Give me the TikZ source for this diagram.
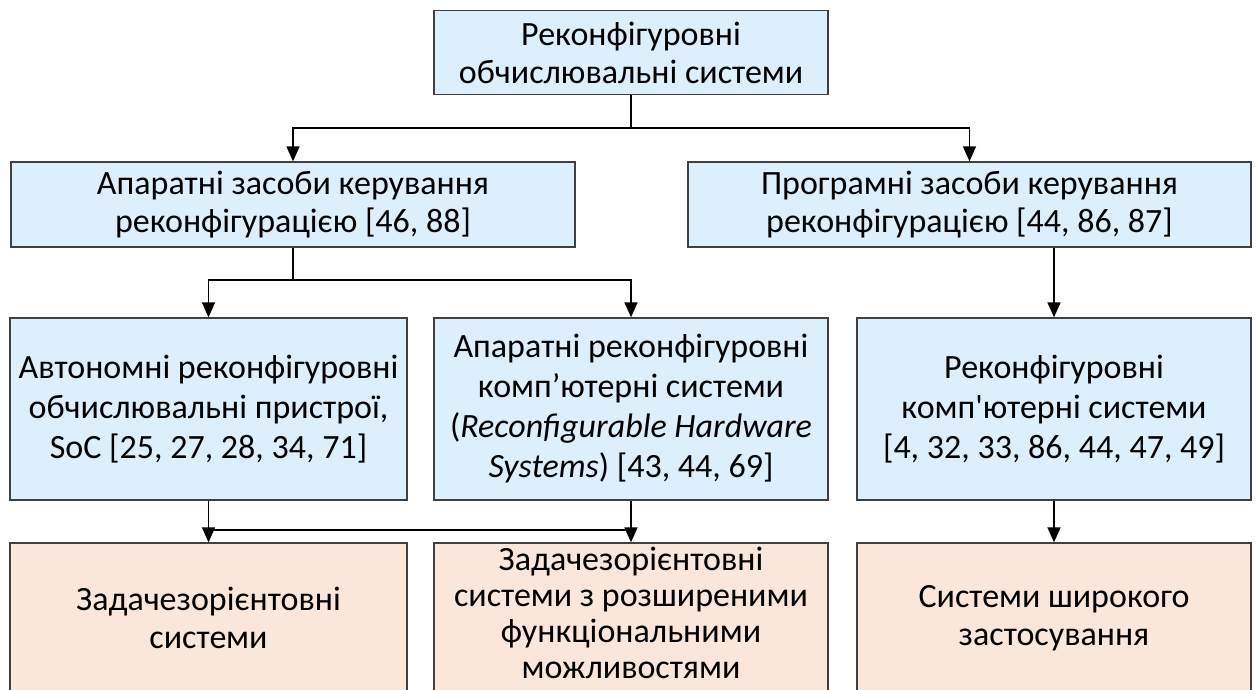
\documentclass[tikz,border=0pt]{standalone}
\usepackage{fontspec}
\setmainfont{Carlito}[Ligatures=TeXOff]
\usetikzlibrary{arrows.meta}
\definecolor{bluefill}{RGB}{220,239,252}
\definecolor{peachfill}{RGB}{251,231,218}
\definecolor{edgegray}{RGB}{64,64,64}
\begin{document}
\begin{tikzpicture}[x=1pt,y=-1pt,
  boxtext/.style={align=center,inner sep=0pt,font=\fontsize{34}{38}\selectfont},
  box/.style={boxtext,draw=edgegray,line width=1.3pt},
  bluebox/.style={box,fill=bluefill},
  peachbox/.style={box,fill=peachfill},
  wide/.style={font=\fontsize{34}{40}\selectfont},
  tight/.style={font=\fontsize{34}{36}\selectfont},
  link/.style={line width=1.5pt,-{Triangle[length=15pt,width=13pt]}},
  plain/.style={line width=1.5pt}]
\useasboundingbox (0,0) rectangle (1256,689);

% level 1
\node[bluebox,minimum width=394pt,minimum height=84pt] (root) at (631,52.5)
  {Реконфігуровні\\обчислювальні системи};

% level 2
\node[bluebox,minimum width=564pt,minimum height=85pt] (hw) at (293,204.5)
  {Апаратні засоби керування\\реконфігурацією [46, 88]};
\node[bluebox,minimum width=563pt,minimum height=85pt] (sw) at (969.5,204.5)
  {Програмні засоби керування\\реконфігурацією [44, 86, 87]};

% level 3
\node[bluebox,wide,minimum width=397pt,minimum height=182pt] (auto) at (208.5,409)
  {Автономні реконфігуровні\\обчислювальні пристрої,\\SoC [25, 27, 28, 34, 71]};
\node[bluebox,wide,minimum width=394pt,minimum height=182pt] (rhs) at (631,409)
  {Апаратні реконфігуровні\\комп’ютерні системи\\(\textit{Reconfigurable Hardware}\\\textit{Systems}) [43, 44, 69]};
\node[bluebox,wide,minimum width=394pt,minimum height=182pt] (rcs) at (1054,409)
  {Реконфігуровні\\комп'ютерні системи\\[0pt][4, 32, 33, 86, 44, 47, 49]};

% level 4: boxes run past the lower edge
\node[peachbox,minimum width=397pt,minimum height=170pt] (t1) at (208.5,628) {};
\node[peachbox,minimum width=394pt,minimum height=170pt] (t2) at (631,628) {};
\node[peachbox,minimum width=394pt,minimum height=170pt] (t3) at (1054,628) {};
\node[boxtext] (t1text) at (208.5,618) {Задачезорієнтовні\\системи};
\node[boxtext,tight] (t2text) at (631,613)
  {Задачезорієнтовні\\системи з розширеними\\функціональними\\можливостями};
\node[boxtext] (t3text) at (1054,618) {Системи широкого\\застосування};

% connectors
\coordinate (j1) at (631,128);
\draw[link] (root.south) -- (j1) -| (hw.north);
\draw[link] (j1) -| (sw.north);

\coordinate (j2) at (293,280);
\draw[link] (hw.south) -- (j2) -| (auto.north);
\draw[link] (j2) -| (rhs.north);

\draw[link] (sw.south -| rcs.north) -- (rcs.north);

\coordinate (j3a) at (208.5,530);
\coordinate (j3b) at (631,530);
\draw[link] (auto.south) -- (t1.north);
\draw[link] (rhs.south) -- (t2.north);
\draw[plain] (j3a) -- (j3b);

\draw[link] (rcs.south) -- (t3.north);
\end{tikzpicture}
\end{document}
